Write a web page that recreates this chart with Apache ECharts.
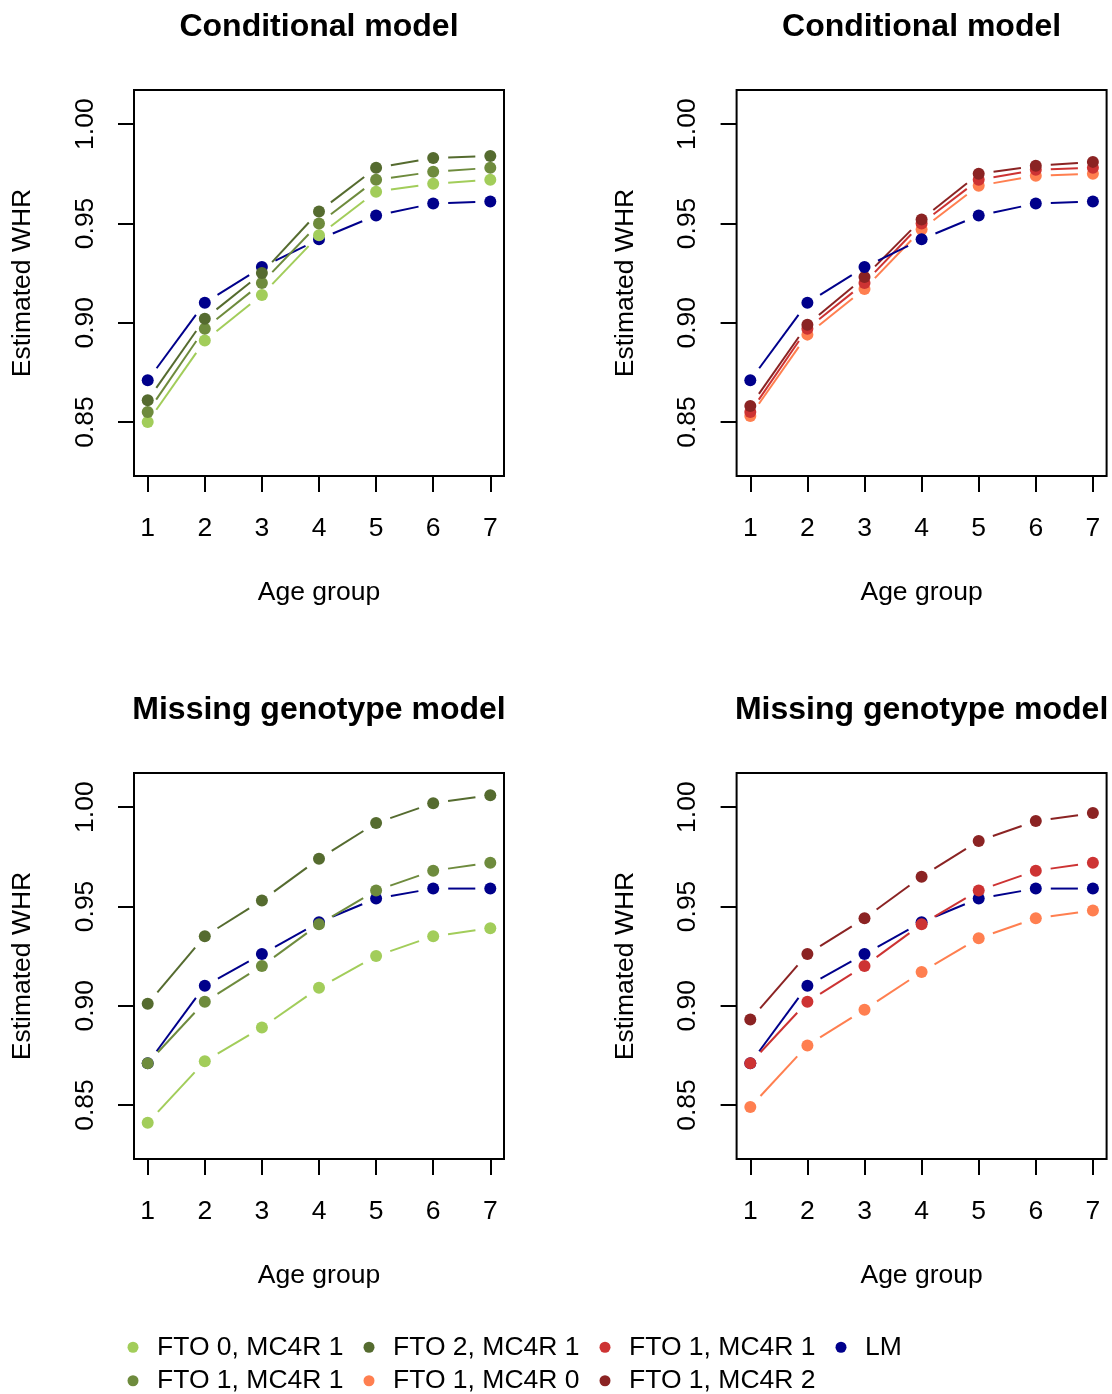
<!DOCTYPE html>
<html>
<head>
<meta charset="utf-8">
<script src="https://cdn.jsdelivr.net/npm/echarts@6/dist/echarts.min.js"></script>
<style>
  html, body { margin: 0; padding: 0; background: #fff; }
  #main { width: 1112px; height: 1394px; }
</style>
</head>
<body>
<div id="main"></div>
<script>
// age groups and y ticks
var ageGroups = [1, 2, 3, 4, 5, 6, 7];
var yTicks = [0.85, 0.90, 0.95, 1.00];

// conditional model (top row)
var condLm    = [0.871, 0.910, 0.928, 0.942, 0.954, 0.960, 0.961];
var condFto0  = [0.850, 0.891, 0.914, 0.944, 0.966, 0.970, 0.972];
var condFto1  = [0.855, 0.897, 0.920, 0.950, 0.972, 0.976, 0.978];
var condFto2  = [0.861, 0.902, 0.925, 0.956, 0.978, 0.983, 0.984];
var condMc4r0 = [0.853, 0.894, 0.917, 0.947, 0.969, 0.974, 0.975];
var condMc4r1 = [0.855, 0.897, 0.920, 0.950, 0.972, 0.977, 0.978];
var condMc4r2 = [0.858, 0.899, 0.923, 0.952, 0.975, 0.979, 0.981];

// missing genotype model (bottom row)
var missLm    = [0.871, 0.910, 0.926, 0.942, 0.954, 0.959, 0.959];
var missFto0  = [0.841, 0.872, 0.889, 0.909, 0.925, 0.935, 0.939];
var missFto1  = [0.871, 0.902, 0.920, 0.941, 0.958, 0.968, 0.972];
var missFto2  = [0.901, 0.935, 0.953, 0.974, 0.992, 1.002, 1.006];
var missMc4r0 = [0.849, 0.880, 0.898, 0.917, 0.934, 0.944, 0.948];
var missMc4r1 = [0.871, 0.902, 0.920, 0.941, 0.958, 0.968, 0.972];
var missMc4r2 = [0.893, 0.926, 0.944, 0.965, 0.983, 0.993, 0.997];

var FONT = 'Liberation Sans, Arial, Helvetica, sans-serif';
var FS = 26.5;
var GAP = 15; // gap around points, like R type="b"

var col = {
    fto0: '#A2CD5A', fto1: '#6E8B3D', fto2: '#556B2F',
    mc4r0: '#FF7F50', mc4r1: '#CD3333', mc4r2: '#8B2323',
    lm: '#00008B'
};
// legend names (green FTO 1 gets a trailing space so both entries exist)
var nm = {
    fto0: 'FTO 0, MC4R 1', fto1: 'FTO 1, MC4R 1 ', fto2: 'FTO 2, MC4R 1',
    mc4r0: 'FTO 1, MC4R 0', mc4r1: 'FTO 1, MC4R 1', mc4r2: 'FTO 1, MC4R 2',
    lm: 'LM'
};

var panels = [
    {left: 134, top: 90, title: 'Conditional model',
     lines: [['lm', condLm], ['fto0', condFto0], ['fto1', condFto1], ['fto2', condFto2]]},
    {left: 736.6, top: 90, title: 'Conditional model',
     lines: [['mc4r0', condMc4r0], ['mc4r1', condMc4r1], ['mc4r2', condMc4r2], ['lm', condLm]]},
    {left: 134, top: 773, title: 'Missing genotype model',
     lines: [['lm', missLm], ['fto0', missFto0], ['fto1', missFto1], ['fto2', missFto2]]},
    {left: 736.6, top: 773, title: 'Missing genotype model',
     lines: [['lm', missLm], ['mc4r0', missMc4r0], ['mc4r1', missMc4r1], ['mc4r2', missMc4r2]]}
];

var W = 370, H = 386;
var grids = [], xAxes = [], yAxes = [], titles = [], series = [];

function gapLine(ys, color, idx) {
    return {
        type: 'custom',
        coordinateSystem: 'cartesian2d',
        xAxisIndex: idx, yAxisIndex: idx,
        silent: true,
        data: ys.map(function(v, i) { return [ageGroups[i], v]; }),
        renderItem: function(params, api) {
            var i = params.dataIndex;
            if (i >= ys.length - 1) return null;
            var a = api.coord([ageGroups[i], ys[i]]);
            var b = api.coord([ageGroups[i + 1], ys[i + 1]]);
            var dx = b[0] - a[0], dy = b[1] - a[1];
            var len = Math.sqrt(dx * dx + dy * dy);
            if (len <= 2 * GAP) return null;
            var ux = dx / len, uy = dy / len;
            return {
                type: 'line',
                shape: {x1: a[0] + ux * GAP, y1: a[1] + uy * GAP, x2: b[0] - ux * GAP, y2: b[1] - uy * GAP},
                style: {stroke: color, lineWidth: 2}
            };
        }
    };
}

panels.forEach(function(p, idx) {
    grids.push({left: p.left, top: p.top, width: W, height: H, show: true,
        borderColor: '#000', borderWidth: 2, backgroundColor: 'transparent'});
    xAxes.push({
        type: 'value', gridIndex: idx, min: 0.76, max: 7.24,
        name: 'Age group', nameLocation: 'middle', nameGap: 103,
        nameTextStyle: {fontFamily: FONT, fontSize: FS, color: '#000'},
        axisLine: {show: false},
        axisTick: {show: true, inside: false, length: 16, customValues: ageGroups,
            lineStyle: {color: '#000', width: 2}},
        axisLabel: {customValues: ageGroups, margin: 39.5, fontFamily: FONT, fontSize: FS, color: '#000'},
        splitLine: {show: false}
    });
    yAxes.push({
        type: 'value', gridIndex: idx, min: 0.8228, max: 1.0172,
        name: 'Estimated WHR', nameLocation: 'middle', nameGap: 97.5,
        nameTextStyle: {fontFamily: FONT, fontSize: FS, color: '#000'},
        axisLine: {show: false},
        axisTick: {show: true, inside: false, length: 16, customValues: yTicks,
            lineStyle: {color: '#000', width: 2}},
        axisLabel: {customValues: yTicks, rotate: 90, margin: 35, fontFamily: FONT, fontSize: FS, color: '#000',
            formatter: function(v) { return v.toFixed(2); }},
        splitLine: {show: false}
    });
    titles.push({
        text: p.title, left: p.left + W / 2, top: p.top - 78.5, textAlign: 'center', padding: 0,
        textStyle: {fontFamily: FONT, fontSize: 32, fontWeight: 'bold', color: '#000'}
    });
    p.lines.forEach(function(l) {
        var key = l[0], ys = l[1];
        series.push(gapLine(ys, col[key], idx));
        series.push({
            type: 'scatter', name: nm[key], xAxisIndex: idx, yAxisIndex: idx,
            symbol: 'circle', symbolSize: 12,
            itemStyle: {color: col[key], opacity: 1},
            data: ys.map(function(v, i) { return [ageGroups[i], v]; }),
            silent: true
        });
    });
});

// legend: four columns of two rows
var legendCols = [
    [nm.fto0, nm.fto1], [nm.fto2, nm.mc4r0], [nm.mc4r1, nm.mc4r2], [nm.lm]
];
var legendX = [134, 370, 606, 842];
var legends = legendCols.map(function(names, i) {
    return {
        orient: 'vertical', left: legendX[i] - 6.5, top: 1333.75, padding: 0,
        width: 230, height: 120,
        itemWidth: 38, itemHeight: 11, itemGap: 6.5, icon: 'circle',
        selectedMode: false,
        textStyle: {fontFamily: FONT, fontSize: FS, lineHeight: 26.5, color: '#000'},
        formatter: function(n) { return n.trim(); },
        data: names
    };
});

var chart = echarts.init(document.getElementById('main'), null, {renderer: 'canvas'});
chart.setOption({
    backgroundColor: '#fff',
    animation: false,
    title: titles,
    legend: legends,
    grid: grids,
    xAxis: xAxes,
    yAxis: yAxes,
    series: series
});
</script>
</body>
</html>
